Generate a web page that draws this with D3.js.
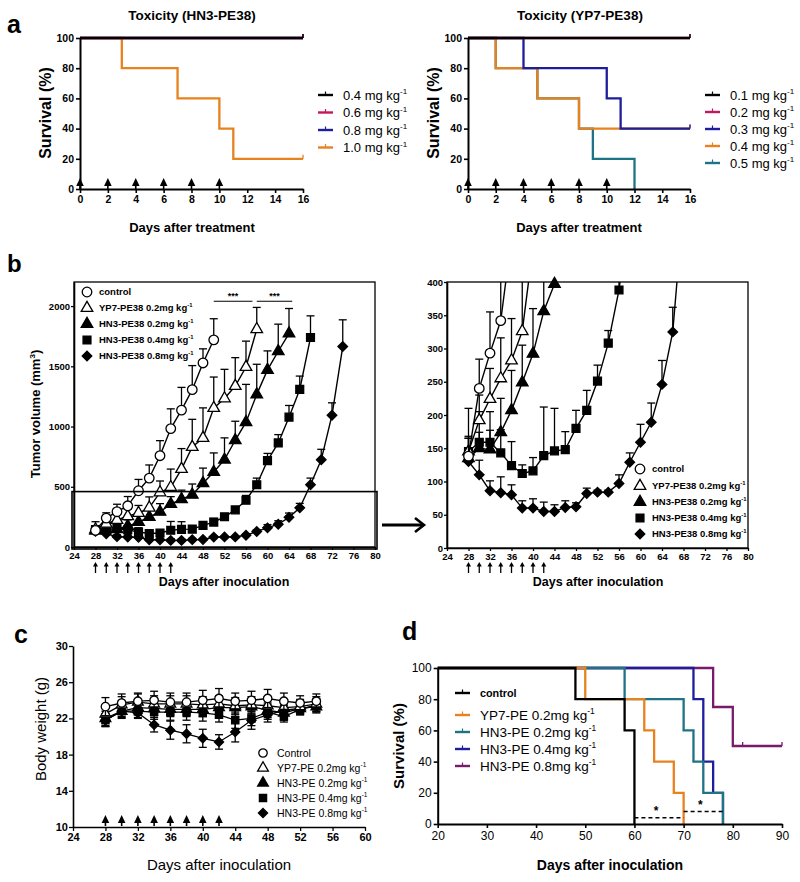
<!DOCTYPE html>
<html>
<head>
<meta charset="utf-8">
<script src="https://cdn.jsdelivr.net/npm/d3@7/dist/d3.min.js"></script>
<style>
  body { margin: 0; background: #fff; }
  text { font-family: "Liberation Sans", Arial, Helvetica, sans-serif; fill: #000; }
</style>
</head>
<body>
<svg id="chart" width="800" height="882"></svg>
<script>
// ---- panel a: toxicity (Kaplan-Meier)
const aTreatDays = [0, 2, 4, 6, 8, 10];
const aXTicks = [0, 2, 4, 6, 8, 10, 12, 14, 16];
const survTicks = [0, 20, 40, 60, 80, 100];
const hn3Doses = ["0.4 mg kg", "0.6 mg kg", "0.8 mg kg", "1.0 mg kg"];
const hn3Times = [[0, 16], [0, 16], [0, 16], [0, 3, 7, 10, 11, 16]];
const hn3Surv = [[100, 100], [100, 100], [100, 100], [100, 80, 60, 40, 20, 20]];
const hn3Censor = [[16], [16], [16], [16]];
const yp7Doses = ["0.1 mg kg", "0.2 mg kg", "0.3 mg kg", "0.4 mg kg", "0.5 mg kg"];
const yp7Times = [[0, 16], [0, 16], [0, 4, 10, 11, 16], [0, 2, 5, 8, 16], [0, 2, 5, 8, 9, 12]];
const yp7Surv = [[100, 100], [100, 100], [100, 80, 60, 40, 40], [100, 80, 60, 40, 40], [100, 80, 60, 40, 20, 0]];
const yp7Censor = [[16], [16], [16], [16], []];

// ---- panel b: tumor volume
const bGroups = ["control", "YP7-PE38 0.2mg kg", "HN3-PE38 0.2mg kg", "HN3-PE38 0.4mg kg", "HN3-PE38 0.8mg kg"];
const bXTicks = [24, 28, 32, 36, 40, 44, 48, 52, 56, 60, 64, 68, 72, 76, 80];
const bYTicks = [0, 500, 1000, 1500, 2000];
const bInsetTicks = [0, 50, 100, 150, 200, 250, 300, 350, 400];
const bTreatDays = [28, 30, 32, 34, 36, 38, 40, 42];
const ctrlDays = [28, 30, 32, 34, 36, 38, 40, 42, 44, 46, 48, 50];
const ctrlVol = [138, 240, 293, 342, 467, 572, 758, 983, 1136, 1306, 1528, 1720];
const ctrlErr = [30, 44, 62, 77, 94, 109, 125, 164, 189, 200, 117, 175];
const yp7Days = [28, 30, 32, 34, 36, 38, 40, 42, 44, 46, 48, 50, 52, 54, 56, 58];
const yp7Vol = [145, 192, 224, 255, 282, 326, 453, 497, 647, 830, 905, 1153, 1233, 1336, 1494, 1808];
const yp7Err = [20, 38, 46, 61, 63, 90, 95, 150, 170, 230, 250, 258, 242, 236, 215, 181];
const hn3LowDays = [28, 30, 32, 34, 36, 38, 40, 42, 44, 46, 48, 50, 52, 54, 56, 58, 60, 62, 64];
const hn3LowVol = [135, 150, 148, 174, 207, 249, 292, 356, 397, 433, 530, 622, 725, 886, 1036, 1267, 1470, 1625, 1772];
const hn3LowErr = [30, 55, 57, 51, 60, 56, 68, 62, 75, 90, 125, 159, 181, 158, 314, 250, 158, 225, 208];
const hn3MidDays = [28, 30, 32, 34, 36, 38, 40, 42, 44, 46, 48, 50, 52, 54, 56, 58, 60, 62, 64, 66, 68];
const hn3MidVol = [145, 159, 159, 143, 124, 112, 116, 139, 146, 148, 180, 207, 251, 308, 388, 517, 717, 864, 1078, 1308, 1739];
const hn3MidErr = [65, 15, 18, 35, 36, 13, 20, 73, 64, 27, 27, 30, 24, 19, 40, 55, 60, 69, 97, 111, 180];
const hn3HighDays = [28, 30, 32, 34, 36, 38, 40, 42, 44, 46, 48, 50, 52, 54, 56, 58, 60, 62, 64, 66, 68, 70, 72, 74];
const hn3HighVol = [130, 110, 86, 83, 80, 60, 60, 55, 55, 61, 62, 82, 84, 84, 97, 129, 159, 189, 246, 325, 517, 725, 1094, 1664];
const hn3HighErr = [15, 22, 15, 24, 15, 11, 14, 14, 10, 10, 6, 8, 3, 3, 13, 14, 27, 29, 36, 37, 55, 86, 103, 222];

// ---- panel c: body weight
const cGroups = ["Control", "YP7-PE 0.2mg kg", "HN3-PE 0.2mg kg", "HN3-PE 0.4mg kg", "HN3-PE 0.8mg kg"];
const cXTicks = [24, 28, 32, 36, 40, 44, 48, 52, 56, 60];
const cYTicks = [10, 14, 18, 22, 26, 30];
const cDays = [28, 30, 32, 34, 36, 38, 40, 42, 44, 46, 48, 50, 52, 54];
const cCtrl = [23.3, 23.7, 23.9, 24.0, 23.8, 23.8, 24.0, 24.2, 23.9, 24.0, 24.2, 23.9, 23.7, 23.9];
const cCtrlErr = [1.0, 1.0, 0.9, 1.0, 1.0, 1.0, 1.1, 1.1, 0.9, 1.0, 1.0, 0.9, 0.8, 0.8];
const cYp7 = [22.5, 23.5, 23.8, 23.6, 23.6, 23.6, 23.5, 23.6, 23.4, 23.5, 23.4, 23.2, 23.3, 23.6];
const cYp7Err = [0.9, 0.9, 0.9, 0.9, 0.9, 0.9, 0.9, 0.9, 0.9, 0.9, 0.9, 0.9, 0.8, 0.8];
const cHn3Low = [22.0, 22.8, 23.2, 23.1, 23.0, 23.0, 23.0, 23.2, 23.2, 23.3, 22.9, 22.6, 23.1, 23.3];
const cHn3LowErr = [0.8, 0.8, 0.8, 0.8, 0.8, 0.8, 0.8, 0.8, 0.8, 0.8, 0.8, 0.8, 0.7, 0.7];
const cHn3Mid = [21.8, 22.8, 22.8, 22.7, 22.7, 22.7, 22.6, 22.4, 21.8, 22.0, 22.7, 22.2, 23.0, 23.5];
const cHn3MidErr = [0.7, 0.7, 0.7, 0.8, 0.9, 0.9, 0.9, 0.8, 0.9, 0.8, 0.8, 0.6, 0.6, 0.7];
const cHn3High = [21.8, 22.8, 22.6, 21.3, 20.7, 20.3, 19.8, 19.4, 20.5, 21.8, 22.4, 22.9, 23.1, 23.3];
const cHn3HighErr = [0.7, 0.6, 0.6, 0.8, 1.0, 1.0, 1.0, 0.8, 1.1, 1.0, 0.8, 0.7, 0.6, 0.6];

// ---- panel d: survival after inoculation
const dGroups = ["control", "YP7-PE 0.2mg kg", "HN3-PE 0.2mg kg", "HN3-PE 0.4mg kg", "HN3-PE 0.8mg kg"];
const dXTicks = [20, 30, 40, 50, 60, 70, 80, 90];
const dTimes = [[20, 48, 58, 60], [20, 50, 62, 64, 68, 70], [20, 58, 70, 72, 74, 78], [20, 72, 74, 76, 78], [20, 76, 80, 90]];
const dSurv = [[100, 80, 60, 0], [100, 80, 60, 40, 20, 0], [100, 80, 60, 40, 20, 0], [100, 80, 40, 20, 0], [100, 75, 50, 50]];
const dCensor = [[], [], [], [], [82, 90]];
const dSignif = [[60, 70, 4], [70, 78, 8]];

// colours
const hn3Colors = ["#000000", "#c4185c", "#1e1e9c", "#e8821e"];
const yp7Colors = ["#000000", "#c4185c", "#1e1e9c", "#e8821e", "#1e7384"];
const dColors = ["#000000", "#e8821e", "#1e7384", "#1e1e9c", "#7a1a6a"];

const svg = d3.select("#chart");
const FONT = '"Liberation Sans", Arial, Helvetica, sans-serif';
const plain = d3.format("d");

function styleAxis(g, size, weight, lw) {
  g.attr("font-family", FONT);
  g.select(".domain").attr("stroke-width", lw);
  g.selectAll(".tick line").attr("stroke-width", lw * 0.8);
  g.selectAll(".tick text").attr("font-size", size).attr("font-weight", weight).attr("fill", "#000");
}

function addText(x, y, str, size, weight, anchor, rotate) {
  const t = svg.append("text").attr("x", x).attr("y", y)
    .attr("font-size", size).attr("font-weight", weight || "normal")
    .attr("text-anchor", anchor || "start").text(str);
  if (rotate) t.attr("transform", `rotate(-90,${x},${y})`);
  return t;
}

function supText(x, y, str, sup, size, weight) {
  const t = svg.append("text").attr("x", x).attr("y", y)
    .attr("font-size", size).attr("font-weight", weight || "normal");
  t.append("tspan").text(str);
  if (sup) t.append("tspan").text(sup).attr("font-size", size * 0.62).attr("dy", -size * 0.42);
  return t;
}

function kmCurves(x, y, times, surv, censor, colors, lw) {
  const line = d3.line().curve(d3.curveStepAfter).x(d => x(d[0])).y(d => y(d[1]));
  // reverse order so the first group ends up on top
  for (let i = times.length - 1; i >= 0; i--) {
    const pts = times[i].map((t, j) => [t, surv[i][j]]);
    svg.append("path").attr("d", line(pts)).attr("fill", "none")
      .attr("stroke", colors[i]).attr("stroke-width", lw);
    censor[i].forEach(t => {
      const s = surv[i][d3.bisectRight(times[i], t) - 1];
      svg.append("line").attr("x1", x(t)).attr("x2", x(t))
        .attr("y1", y(s)).attr("y2", y(s) - 4)
        .attr("stroke", colors[i]).attr("stroke-width", 1.3);
    });
  }
}

function kmLegend(x0, ys, labels, colors, size, weights) {
  labels.forEach((lab, i) => {
    svg.append("line").attr("x1", x0).attr("x2", x0 + 15).attr("y1", ys[i]).attr("y2", ys[i])
      .attr("stroke", colors[i]).attr("stroke-width", 2.4);
    svg.append("line").attr("x1", x0 + 7.5).attr("x2", x0 + 7.5).attr("y1", ys[i]).attr("y2", ys[i] - 3.5)
      .attr("stroke", colors[i]).attr("stroke-width", 1.2);
    const w = weights ? weights[i] : "normal";
    const s = (weights && w === "bold") ? size * 0.8 : size;
    supText(x0 + 25, ys[i] + s * 0.36, lab, lab === "control" ? null : "-1", s, w);
  });
}

function triArrows(x, days, base) {
  days.forEach(d => {
    const cx = x(d);
    svg.append("path").attr("d", `M${cx},${base - 11}L${cx + 3.8},${base - 3}L${cx - 3.8},${base - 3}Z`)
      .attr("fill", "#000");
    svg.append("line").attr("x1", cx).attr("x2", cx).attr("y1", base - 4).attr("y2", base)
      .attr("stroke", "#000").attr("stroke-width", 1.6);
  });
}

function thinArrows(x, days, top, bottom) {
  days.forEach(d => {
    const cx = x(d);
    svg.append("line").attr("x1", cx).attr("x2", cx).attr("y1", top + 3).attr("y2", bottom)
      .attr("stroke", "#000").attr("stroke-width", 1.3);
    svg.append("path").attr("d", `M${cx},${top}L${cx + 2.5},${top + 4.5}L${cx - 2.5},${top + 4.5}Z`)
      .attr("fill", "#000");
  });
}

function marker(g, cx, cy, shape, filled, size) {
  let type = d3.symbolCircle, rot = 0;
  if (shape === "triangle") type = d3.symbolTriangle;
  if (shape === "square") type = d3.symbolSquare;
  if (shape === "diamond") { type = d3.symbolSquare; rot = 45; }
  g.append("path").attr("d", d3.symbol(type, size)())
    .attr("transform", `translate(${cx},${cy}) rotate(${rot})`)
    .attr("fill", filled ? "#000" : "#fff").attr("stroke", "#000").attr("stroke-width", 1.3);
}

// ================= panel a =================
const yA = d3.scaleLinear().domain([0, 100]).range([189, 38]);
const xA1 = d3.scaleLinear().domain([0, 16]).range([80, 303]);
const xA2 = d3.scaleLinear().domain([0, 16]).range([468, 690]);

kmCurves(xA1, yA, hn3Times, hn3Surv, hn3Censor, hn3Colors, 2.3);
kmCurves(xA2, yA, yp7Times, yp7Surv, yp7Censor, yp7Colors, 2.3);

[xA1, xA2].forEach(x => {
  svg.append("g").attr("transform", `translate(0,${yA(0)})`)
    .call(d3.axisBottom(x).tickValues(aXTicks).tickSize(4).tickSizeOuter(0).tickPadding(3))
    .call(styleAxis, 10.5, "bold", 2);
  svg.append("g").attr("transform", `translate(${x(0)},0)`)
    .call(d3.axisLeft(yA).tickValues(survTicks).tickSize(4).tickSizeOuter(0).tickPadding(2))
    .call(styleAxis, 10.5, "bold", 2);
  triArrows(x, aTreatDays, yA(0));
});

addText(192, 20, "Toxicity (HN3-PE38)", 13.5, "bold", "middle");
addText(580, 20, "Toxicity (YP7-PE38)", 13.5, "bold", "middle");
addText(192, 232, "Days after treatment", 13, "bold", "middle");
addText(579, 232, "Days after treatment", 13, "bold", "middle");
addText(51, 113, "Survival (%)", 16, "bold", "middle", true);
addText(439, 113, "Survival (%)", 16, "bold", "middle", true);
kmLegend(318, [95, 112.5, 130, 147.5], hn3Doses, hn3Colors, 13);
kmLegend(705, [95, 112, 129, 146, 163], yp7Doses, yp7Colors, 13);
addText(7, 33, "a", 25, "bold");

// ================= panel b =================
const bSeries = [
  { days: ctrlDays, vol: ctrlVol, err: ctrlErr, shape: "circle", filled: false, size: 72 },
  { days: yp7Days, vol: yp7Vol, err: yp7Err, shape: "triangle", filled: false, size: 58 },
  { days: hn3LowDays, vol: hn3LowVol, err: hn3LowErr, shape: "triangle", filled: true, size: 58 },
  { days: hn3MidDays, vol: hn3MidVol, err: hn3MidErr, shape: "square", filled: true, size: 62 },
  { days: hn3HighDays, vol: hn3HighVol, err: hn3HighErr, shape: "diamond", filled: true, size: 46 }
];

function drawTumor(x, y, clipId, limit) {
  const g = svg.append("g");
  bSeries.slice().reverse().forEach(s => {
    const gl = g.append("g");
    if (clipId) gl.attr("clip-path", `url(#${clipId})`);
    s.days.forEach((d, i) => {
      const top = y(s.vol[i] + s.err[i]);
      gl.append("line").attr("x1", x(d)).attr("x2", x(d)).attr("y1", y(s.vol[i])).attr("y2", top)
        .attr("stroke", "#000").attr("stroke-width", 1.3);
      gl.append("line").attr("x1", x(d) - 4).attr("x2", x(d) + 4).attr("y1", top).attr("y2", top)
        .attr("stroke", "#000").attr("stroke-width", 1.3);
    });
    gl.append("path").attr("d", d3.line().x(d => x(d)).y((d, i) => y(s.vol[i]))(s.days))
      .attr("fill", "none").attr("stroke", "#000").attr("stroke-width", 1.4);
    s.days.forEach((d, i) => {
      if (limit == null || s.vol[i] <= limit) marker(g, x(d), y(s.vol[i]), s.shape, s.filled, s.size);
    });
  });
}

function tumorLegend(mx, ys) {
  bGroups.forEach((lab, i) => {
    const s = bSeries[i];
    marker(svg, mx, ys[i], s.shape, s.filled, s.size);
    supText(mx + 12, ys[i] + 3.4, lab, i === 0 ? null : "-1", 9.5, "bold");
  });
}

// left: full range
const xB1 = d3.scaleLinear().domain([24, 80]).range([74, 375]);
const yB1 = d3.scaleLinear().domain([0, 2200]).range([547, 282]);
svg.append("rect").attr("x", 74).attr("y", 282).attr("width", 301).attr("height", 265)
  .attr("fill", "none").attr("stroke", "#000").attr("stroke-width", 1.3);
drawTumor(xB1, yB1, null, null);
svg.append("g").attr("transform", "translate(0,547)")
  .call(d3.axisBottom(xB1).tickValues(bXTicks).tickSize(3).tickSizeOuter(0).tickPadding(2))
  .call(styleAxis, 9.5, "bold", 1.6);
svg.append("g").attr("transform", "translate(74,0)")
  .call(d3.axisLeft(yB1).tickValues(bYTicks).tickFormat(plain).tickSize(3).tickSizeOuter(0).tickPadding(1))
  .call(styleAxis, 9.5, "bold", 1.6);
svg.append("rect").attr("x", 72).attr("y", yB1(460)).attr("width", 305).attr("height", 549 - yB1(460))
  .attr("fill", "none").attr("stroke", "#000").attr("stroke-width", 1.6);
tumorLegend(87, [292, 308, 324, 340, 356]);
[[50, 57.2], [58, 64.6]].forEach(r => {
  svg.append("line").attr("x1", xB1(r[0])).attr("x2", xB1(r[1])).attr("y1", yB1(2040)).attr("y2", yB1(2040))
    .attr("stroke", "#000").attr("stroke-width", 1.2);
  addText((xB1(r[0]) + xB1(r[1])) / 2, yB1(2040) - 2, "***", 9, "bold", "middle");
});
thinArrows(xB1, bTreatDays, 562, 573);
addText(224, 586, "Days after inoculation", 12.5, "bold", "middle");
const yTitle = addText(40, 414, "Tumor volume (mm", 13, "bold", "middle", true);
yTitle.append("tspan").text("3").attr("font-size", 8).attr("dy", -5);
yTitle.append("tspan").text(")").attr("dy", 5);
addText(7, 272, "b", 24, "bold");

// zoom arrow
svg.append("line").attr("x1", 382).attr("x2", 423).attr("y1", 525).attr("y2", 525)
  .attr("stroke", "#000").attr("stroke-width", 3);
svg.append("path").attr("d", "M415,518L424,525L415,532").attr("fill", "none")
  .attr("stroke", "#000").attr("stroke-width", 2.6);

// right: inset 0-400
const xB2 = d3.scaleLinear().domain([24, 80]).range([447, 748]);
const yB2 = d3.scaleLinear().domain([0, 400]).range([548, 282]);
svg.append("clipPath").attr("id", "insetClip").append("rect")
  .attr("x", 447).attr("y", 282).attr("width", 301).attr("height", 266);
svg.append("rect").attr("x", 447).attr("y", 282).attr("width", 301).attr("height", 266)
  .attr("fill", "none").attr("stroke", "#000").attr("stroke-width", 1.3);
drawTumor(xB2, yB2, "insetClip", 402);
svg.append("g").attr("transform", "translate(0,548)")
  .call(d3.axisBottom(xB2).tickValues(bXTicks).tickSize(3).tickSizeOuter(0).tickPadding(2))
  .call(styleAxis, 9.5, "bold", 1.6);
svg.append("g").attr("transform", "translate(447,0)")
  .call(d3.axisLeft(yB2).tickValues(bInsetTicks).tickSize(3).tickSizeOuter(0).tickPadding(1))
  .call(styleAxis, 9.5, "bold", 1.6);
tumorLegend(640, [469, 486, 502, 518, 534]);
thinArrows(xB2, bTreatDays, 562, 573);
addText(598, 586, "Days after inoculation", 12.5, "bold", "middle");

// ================= panel c =================
const xC = d3.scaleLinear().domain([24, 60]).range([73, 365]);
const yC = d3.scaleLinear().domain([10, 30]).range([827, 646]);
const cSeries = [
  { vals: cCtrl, err: cCtrlErr, shape: "circle", filled: false, size: 56 },
  { vals: cYp7, err: cYp7Err, shape: "triangle", filled: false, size: 50 },
  { vals: cHn3Low, err: cHn3LowErr, shape: "triangle", filled: true, size: 50 },
  { vals: cHn3Mid, err: cHn3MidErr, shape: "square", filled: true, size: 52 },
  { vals: cHn3High, err: cHn3HighErr, shape: "diamond", filled: true, size: 42 }
];
const gC = svg.append("g");
cSeries.slice().reverse().forEach(s => {
  cDays.forEach((d, i) => {
    const lo = yC(s.vals[i] - s.err[i]), hi = yC(s.vals[i] + s.err[i]);
    gC.append("line").attr("x1", xC(d)).attr("x2", xC(d)).attr("y1", lo).attr("y2", hi)
      .attr("stroke", "#000").attr("stroke-width", 1.3);
    [lo, hi].forEach(v => gC.append("line").attr("x1", xC(d) - 4).attr("x2", xC(d) + 4)
      .attr("y1", v).attr("y2", v).attr("stroke", "#000").attr("stroke-width", 1.3));
  });
  gC.append("path").attr("d", d3.line().x(d => xC(d)).y((d, i) => yC(s.vals[i]))(cDays))
    .attr("fill", "none").attr("stroke", "#000").attr("stroke-width", 1.3);
  cDays.forEach((d, i) => marker(gC, xC(d), yC(s.vals[i]), s.shape, s.filled, s.size));
});
svg.append("g").attr("transform", "translate(0,827)")
  .call(d3.axisBottom(xC).tickValues(cXTicks).tickSize(4).tickSizeOuter(0).tickPadding(2))
  .call(styleAxis, 11, "bold", 1.6);
svg.append("g").attr("transform", "translate(73,0)")
  .call(d3.axisLeft(yC).tickValues(cYTicks).tickSize(4).tickSizeOuter(0).tickPadding(1))
  .call(styleAxis, 11, "bold", 1.6);
triArrows(xC, bTreatDays, 826);
cGroups.forEach((lab, i) => {
  const s = cSeries[i];
  const yy = [753, 768, 783, 798, 813][i];
  marker(svg, 263, yy, s.shape, s.filled, s.size);
  supText(277, yy + 3.8, lab, i === 0 ? null : "-1", 10.5, "normal");
});
addText(219, 870, "Days after inoculation", 15, "normal", "middle");
addText(46, 729, "Body weight (g)", 15, "normal", "middle", true);
addText(14, 643, "c", 25, "bold");

// ================= panel d =================
const xD = d3.scaleLinear().domain([20, 90]).range([437.7, 782]);
const yD = d3.scaleLinear().domain([0, 100]).range([824, 668]);
kmCurves(xD, yD, dTimes, dSurv, dCensor, dColors, 2.3);
dSignif.forEach(r => {
  svg.append("line").attr("x1", xD(r[0])).attr("x2", xD(r[1])).attr("y1", yD(r[2])).attr("y2", yD(r[2]))
    .attr("stroke", "#000").attr("stroke-width", 1.3).attr("stroke-dasharray", "4,3");
  addText((xD(r[0]) + xD(r[1])) / 2 - 3, yD(r[2]) - 3, "*", 12, "bold", "middle");
});
svg.append("g").attr("transform", "translate(0,824)")
  .call(d3.axisBottom(xD).tickValues(dXTicks).tickSize(4).tickSizeOuter(0).tickPadding(3))
  .call(styleAxis, 12, "normal", 2);
svg.append("g").attr("transform", `translate(${xD(20)},0)`)
  .call(d3.axisLeft(yD).tickValues(survTicks).tickSize(4).tickSizeOuter(0).tickPadding(2))
  .call(styleAxis, 12, "normal", 2);
kmLegend(455, [693, 715, 732, 749, 766], dGroups, dColors, 13.5, ["bold", "normal", "normal", "normal", "normal"]);
addText(610, 870, "Days after inoculation", 14, "bold", "middle");
addText(404, 746, "Survival (%)", 15, "bold", "middle", true);
addText(402, 640, "d", 25, "bold");
</script>
</body>
</html>
